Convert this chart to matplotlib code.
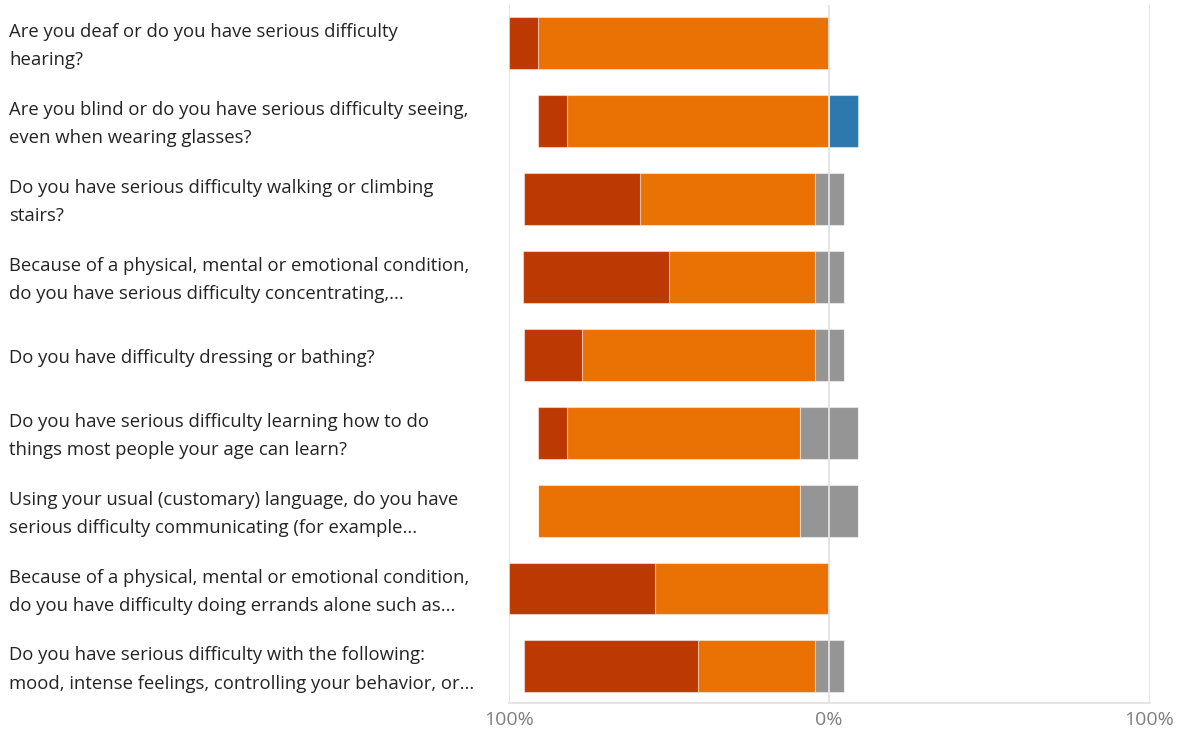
import matplotlib
matplotlib.use("Agg")
import matplotlib.pyplot as plt
import matplotlib.transforms as mtransforms
import numpy as np

plt.rcParams['font.family'] = ['Open Sans', 'DejaVu Sans']

questions = [
    "Are you deaf or do you have serious difficulty\nhearing?",
    "Are you blind or do you have serious difficulty seeing,\neven when wearing glasses?",
    "Do you have serious difficulty walking or climbing\nstairs?",
    "Because of a physical, mental or emotional condition,\ndo you have serious difficulty concentrating,...",
    "Do you have difficulty dressing or bathing?",
    "Do you have serious difficulty learning how to do\nthings most people your age can learn?",
    "Using your usual (customary) language, do you have\nserious difficulty communicating (for example...",
    "Because of a physical, mental or emotional condition,\ndo you have difficulty doing errands alone such as...",
    "Do you have serious difficulty with the following:\nmood, intense feelings, controlling your behavior, or...",
]

# Share of responses (%) per answer category
strong_neg = [9.1, 9.1, 36.4, 45.5, 18.2, 9.1, 0.0, 45.5, 54.5]
neg        = [90.9, 81.8, 54.5, 45.5, 72.7, 72.7, 81.8, 54.5, 36.4]
neutral    = [0.0, 0.0, 9.1, 9.1, 9.1, 18.2, 18.2, 0.0, 9.1]
pos        = [0.0, 9.1, 0.0, 0.0, 0.0, 0.0, 0.0, 0.0, 0.0]

tick_pos = [-100, 0, 100]
tick_labels = ["100%", "0%", "100%"]

c_strong_neg = "#BC3A02"
c_neg = "#EA7104"
c_neutral = "#959595"
c_pos = "#2E78B0"

W, H = 1179, 730
fig = plt.figure(figsize=(W / 100, H / 100), dpi=100)
ax = fig.add_axes([509 / W, 27 / H, (1149.5 - 509) / W, (703 - 5) / H])

y = np.arange(len(questions))
sn = np.array(strong_neg)
ng = np.array(neg)
nu = np.array(neutral)
ps = np.array(pos)

h = 0.667
edge = dict(edgecolor=(1, 1, 1, 0.45), linewidth=0.8)
# negative side stacks leftwards from half of the neutral share
ax.barh(y, -ng, left=-nu / 2, height=h, color=c_neg, zorder=3, **edge)
ax.barh(y, -sn, left=-nu / 2 - ng, height=h, color=c_strong_neg, zorder=3, **edge)
ax.barh(y, nu, left=-nu / 2, height=h, color=c_neutral, zorder=3, **edge)
ax.barh(y, ps, left=nu / 2, height=h, color=c_pos, zorder=3, **edge)

ax.set_xlim(-100, 100)
ax.set_ylim(8.47, -0.49)

for xv in tick_pos:
    ax.axvline(xv, color="#E3E3E3", linewidth=1.3, zorder=4 if xv == 0 else 1)

for s in ["top", "left", "right"]:
    ax.spines[s].set_visible(False)
ax.spines["bottom"].set_color("#E3E3E3")
ax.spines["bottom"].set_linewidth(1.3)

ax.set_yticks([])
ax.set_xticks(tick_pos)
ax.set_xticklabels(tick_labels, fontsize=14, color="#808080")
ax.tick_params(axis="x", length=0, pad=6)

trans = mtransforms.blended_transform_factory(fig.transFigure, ax.transData)
for yi, q in zip(y, questions):
    ax.text(9 / W, yi + 0.04, q, transform=trans, ha="left", va="center",
            fontsize=13.3, color="#252423", linespacing=1.72, clip_on=False)

fig.savefig("out.png", dpi=100)
